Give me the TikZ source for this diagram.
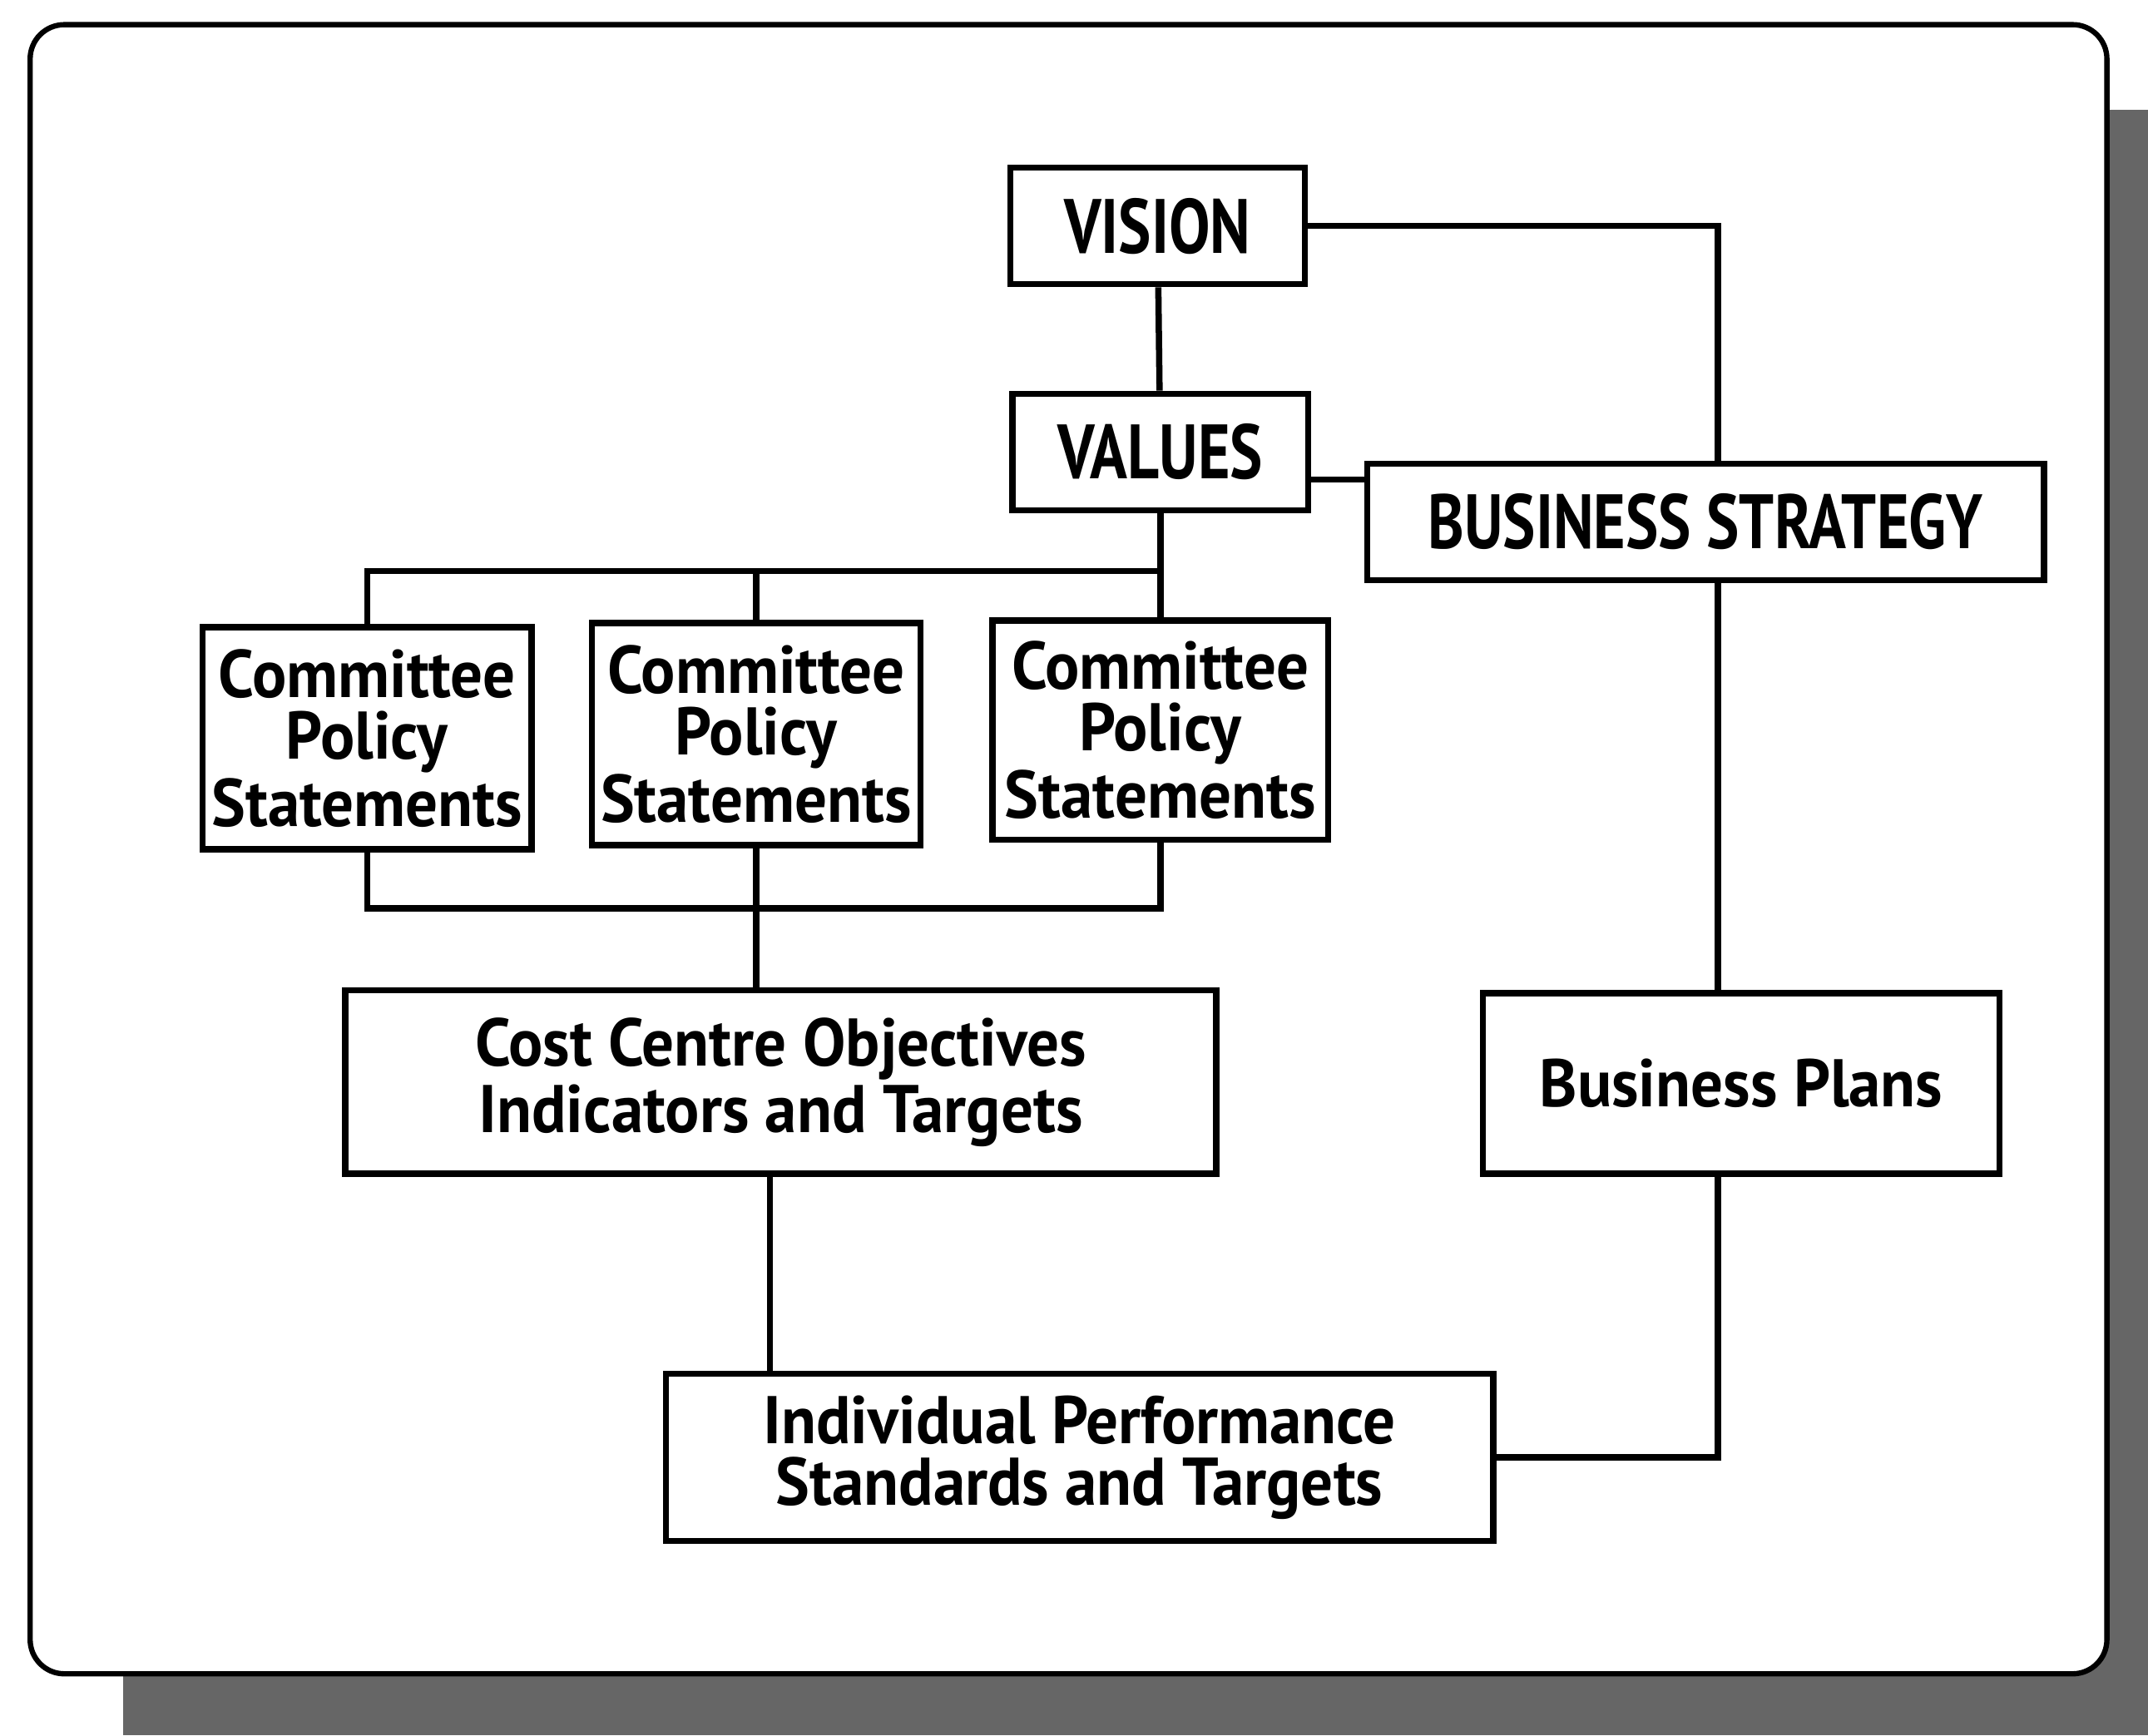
\documentclass[tikz,border=0pt]{standalone}
\usepackage{fontspec}
\usepackage{tikz}
\newfontfamily\chartfont{PT Sans}[FakeStretch=0.95]
\newfontfamily\capsfont{PT Sans}[FakeStretch=0.8]
\tikzset{
  box/.style={draw, line width=1.3pt, inner sep=0pt, align=center, fill=white,
              font=\chartfont\bfseries\fontsize{14}{12.8}\selectfont},
  capsbox/.style={box, font=\capsfont\bfseries\fontsize{16}{18}\selectfont},
  link/.style={line width=1.3pt},
}

\begin{document}
\begin{tikzpicture}[x=0.1mm, y=-0.1mm]
    \useasboundingbox (0,0) rectangle (1568,1267);

    % Draw shadow and frame
    \fill[black!60] (90,80) rectangle (1568,1267);
    \draw[line width=1.1pt, rounded corners=2.5mm, fill=white] (22,18) rectangle (1538,1222);

    % Top of the chart
    \node[capsbox, minimum width=21.5mm, minimum height=8.5mm] (vision) at (845,165) {VISION};
    \node[capsbox, minimum width=21.6mm, minimum height=8.5mm] (values) at (847,330) {VALUES};
    \node[capsbox, minimum width=49.4mm, minimum height=8.5mm] (strategy) at (1245,381) {BUSINESS STRATEGY};

    % Committee boxes
    \node[box, minimum width=24mm, minimum height=16.2mm] (com1) at (268,539) {Committee\\Policy\\Statements};
    \node[box, minimum width=24mm, minimum height=16.2mm] (com2) at (552,536) {Committee\\Policy\\Statements};
    \node[box, minimum width=24.5mm, minimum height=16mm] (com3) at (847,533) {Committee\\Policy\\Statements};

    % Lower boxes
    \node[box, minimum width=63.6mm, minimum height=13.4mm] (cost) at (570,790) {Cost Centre Objectives\\Indicators and Targets};
    \node[box, minimum width=37.7mm, minimum height=13.2mm] (plans) at (1271,791) {Business Plans};
    \node[box, minimum width=60.4mm, minimum height=12.2mm] (indiv) at (788,1064) {Individual Performance\\Standards and Targets};

    % Junction points
    \coordinate (spine) at (1254,0);
    \coordinate (topbus) at (845,417);
    \coordinate (botbus) at (847,663);

    % Draw connectors
    \draw[link] (vision) -- (values);
    \draw[link] (vision.east) -| (spine |- strategy.north);
    \draw[link] ([yshift=-2mm]values.east) -- ([yshift=-2mm]values.east -| strategy.west);
    \draw[link] (values.south) -- (com3.north);
    \draw[link] (com1.north) |- (topbus);
    \draw[link] (com2.north) -- (com2.north |- topbus);
    \draw[link] (com1.south) |- (botbus) -- (com3.south);
    \draw[link] (com2.south) -- (com2.south |- cost.north);
    \draw[link] ([xshift=-0.8mm]cost.south) -- ([xshift=-0.8mm]cost.south |- indiv.north);
    \draw[link] (spine |- strategy.south) -- (spine |- plans.north);
    \draw[link] (spine |- plans.south) |- (indiv.east);
\end{tikzpicture}
\end{document}
